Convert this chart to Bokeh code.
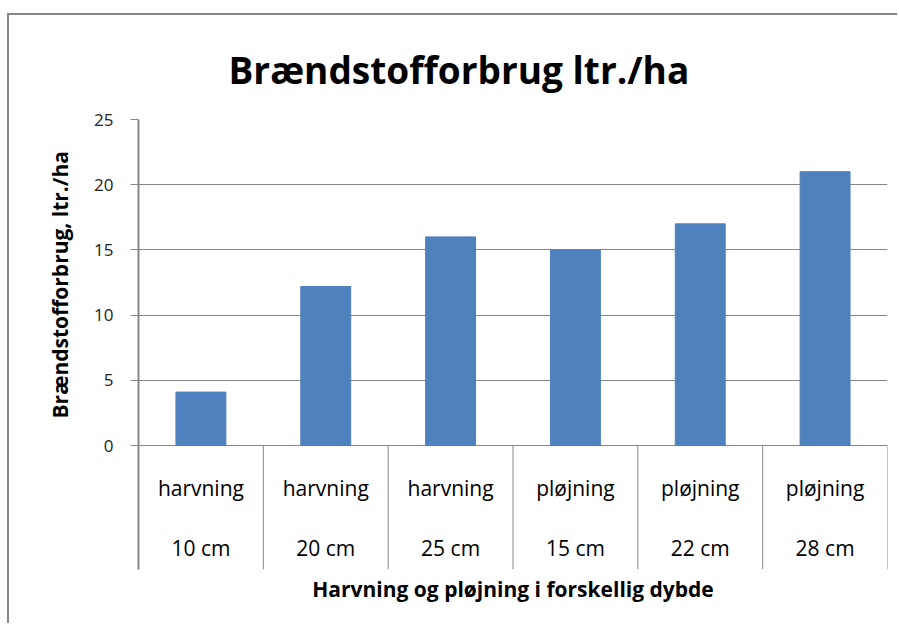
from bokeh.plotting import figure
from bokeh.models import Range1d, FixedTicker, ColumnDataSource, Title
from bokeh.embed import file_html
from bokeh.resources import INLINE
from bokeh.core.properties import value

# ---- data ----
methods = ["harvning", "harvning", "harvning", "pløjning", "pløjning", "pløjning"]
depths = ["10 cm", "20 cm", "25 cm", "15 cm", "22 cm", "28 cm"]
fuel = [4.1, 12.2, 16.0, 15.0, 17.0, 21.0]
y_ticks = [0, 5, 10, 15, 20, 25]

title_text = "Brændstofforbrug ltr./ha"
y_title = "Brændstofforbrug, ltr./ha"
x_title = "Harvning og pløjning i forskellig dybde"

FONT = "Open Sans"
GRAY = "#868686"
BAR = "#4F81BD"
Y_BELOW = -9.5   # room under the zero line for the category table

n = len(fuel)
x_centers = [i + 0.5 for i in range(n)]
bounds = list(range(n + 1))
src = ColumnDataSource(dict(x=x_centers, top=fuel, method=methods, depth=depths))

p = figure(width=890, height=610, output_backend="svg", toolbar_location=None,
           x_range=Range1d(0, n), y_range=Range1d(Y_BELOW, y_ticks[-1]),
           x_axis_location=None,
           min_border_left=129, min_border_right=12, min_border_top=104,
           min_border_bottom=56)
p.styles = {"border-top": "2px solid " + GRAY, "border-left": "2px solid " + GRAY,
            "margin-top": "13px", "margin-left": "7px"}
p.outline_line_color = None
p.background_fill_color = "white"
p.border_fill_color = "white"

# title
p.title.text = title_text
p.title.align = "left"
p.title.offset = 90
p.title.text_font = FONT
p.title.text_font_size = "37px"
p.title.text_font_style = "bold"
p.title.text_color = "black"
p.title.standoff = 50

# bars
p.vbar(x="x", top="top", bottom=0, width=0.4, source=src, color=BAR)

# category table: separators
p.segment(x0=bounds, y0=[0] * len(bounds), x1=bounds, y1=[Y_BELOW] * len(bounds),
          line_color=GRAY, line_width=1)

p.text(x="x", y=0, text="method", source=src, y_offset=42,
       text_align="center", text_baseline="middle",
       text_font=value(FONT), text_font_size=value("21px"), text_color="black")
p.text(x="x", y=0, text="depth", source=src, y_offset=102,
       text_align="center", text_baseline="middle",
       text_font=value(FONT), text_font_size=value("21px"), text_color="black")

# y axis
p.yaxis.ticker = FixedTicker(ticks=y_ticks)
p.yaxis.axis_line_color = GRAY
p.yaxis.axis_line_width = 2
p.yaxis.major_tick_line_color = GRAY
p.yaxis.major_tick_out = 8
p.yaxis.major_tick_in = 0
p.yaxis.minor_tick_line_color = None
p.yaxis.major_label_text_font = FONT
p.yaxis.major_label_text_font_size = "17px"
p.yaxis.major_label_text_color = "#222222"
p.yaxis.major_label_standoff = 17

p.xgrid.visible = False
p.ygrid.ticker = FixedTicker(ticks=y_ticks)
p.ygrid.grid_line_color = GRAY
p.ygrid.grid_line_width = 1

# y axis title, centred on the value part of the axis
p.add_layout(Title(text=y_title, align="left", offset=151, text_font=FONT,
                   text_font_size="21px", text_font_style="bold",
                   text_color="black", standoff=36), "left")

# x axis title below
p.add_layout(Title(text=x_title, align="center", text_font=FONT,
                   text_font_size="21px", text_font_style="bold",
                   text_color="black", standoff=6), "below")

open("out.html", "w").write(file_html(p, INLINE))
